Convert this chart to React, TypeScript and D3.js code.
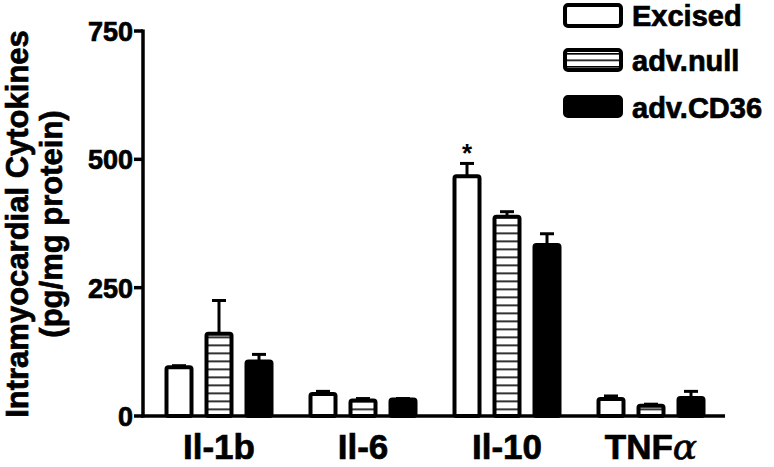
import React from "react";
import * as d3 from "d3";

const categories = ["Il-1b", "Il-6", "Il-10", "TNF"];
const seriesNames = ["Excised", "adv.null", "adv.CD36"];
const excised = [95, 43, 467, 33];
const excisedErr = [3, 5, 25, 6];
const advNull = [160, 30, 388, 20];
const advNullErr = [65, 4, 10, 3];
const advCD36 = [106, 32, 333, 35];
const advCD36Err = [14, 2, 22, 13];
const yTicks = [0, 250, 500, 750];

const W = 774, H = 467;

export default function App() {
  const y = d3.scaleLinear().domain([0, 750]).range([416, 31]);
  const x0 = d3.scaleBand<string>().domain(categories).range([147, 723]).padding(0);
  const x1 = d3.scaleBand<string>().domain(seriesNames).range([-60, 60]).padding(0);
  const values = [excised, advNull, advCD36];
  const errs = [excisedErr, advNullErr, advCD36Err];
  const font = "Arial, 'Liberation Sans', sans-serif";
  const sw = 4;
  const barW = 25;
  const fills = ["#fff", "url(#stripes)", "#000"];
  const legendY = [5, 50, 97];
  const legendH = [21, 20, 19];
  const heavy = { stroke: "#000", strokeWidth: 0.7 };
  return (
    <svg width={W} height={H} style={{ position: "absolute", left: 0, top: 0, background: "#fff" }} fontFamily={font}>
      <defs>
        <pattern id="stripes" patternUnits="userSpaceOnUse" width="8" height="8" y={0.5}>
          <rect width="8" height="8" fill="#fff" />
          <rect y="0" width="8" height="1.6" fill="#000" />
        </pattern>
        <pattern id="stripesL" patternUnits="userSpaceOnUse" width="8" height="6.5" y={53}>
          <rect width="8" height="6.5" fill="#fff" />
          <rect y="0" width="8" height="1.6" fill="#000" />
        </pattern>
      </defs>
      {categories.map((c, ci) => (
        <g key={c}>
          {seriesNames.map((s, si) => {
            const cx = (x0(c) as number) + x0.bandwidth() / 2 + (x1(s) as number) + x1.bandwidth() / 2;
            const v = values[si][ci];
            const e = errs[si][ci];
            const top = y(v);
            return (
              <g key={s}>
                <line x1={cx} x2={cx} y1={top} y2={y(v + e)} stroke="#000" strokeWidth={3} />
                <line x1={cx - 7} x2={cx + 7} y1={y(v + e)} y2={y(v + e)} stroke="#000" strokeWidth={3} />
                <rect x={cx - barW / 2} y={top} width={barW} height={y(0) - top} fill={fills[si]} stroke="#000" strokeWidth={sw} rx={2} />
              </g>
            );
          })}
        </g>
      ))}
      <text x={(x0("Il-10") as number) + x0.bandwidth() / 2 + (x1("Excised") as number) + x1.bandwidth() / 2} y={y(excised[2] + excisedErr[2]) - 1} textAnchor="middle" fontSize={26} fontWeight="bold">*</text>
      <line x1={143} x2={143} y1={y(750) - 1.5} y2={y(0) + 1.5} stroke="#000" strokeWidth={3.5} />
      <line x1={141} x2={725} y1={y(0)} y2={y(0)} stroke="#000" strokeWidth={3.5} />
      {yTicks.map((t) => (
        <g key={t}>
          <line x1={134} x2={143} y1={y(t)} y2={y(t)} stroke="#000" strokeWidth={3.5} />
          <text x={133} y={y(t) + 10} textAnchor="end" fontSize={27} fontWeight="bold" {...heavy}>{t}</text>
        </g>
      ))}
      {categories.map((c) => (
        <text key={c} x={(x0(c) as number) + x0.bandwidth() / 2} y={459} textAnchor="middle" fontSize={35} fontWeight="bold" {...heavy}>
          {c === "TNF" ? (<>TNF<tspan fontWeight="normal" fontFamily="'DejaVu Serif', serif" fontStyle="italic" fontSize={36}>α</tspan></>) : c}
        </text>
      ))}
      <g transform="translate(28,224) rotate(-90)">
        <text x={0} y={0} textAnchor="middle" fontSize={31} fontWeight="bold" {...heavy}>Intramyocardial Cytokines</text>
        <text x={0} y={34} textAnchor="middle" fontSize={31} fontWeight="bold" {...heavy}>(pg/mg protein)</text>
      </g>
      {seriesNames.map((s, i) => {
        const ly = legendY[i];
        return (
          <g key={s}>
            <rect x={565} y={ly} width={56} height={legendH[i]} fill={i === 1 ? "url(#stripesL)" : fills[i]} stroke="#000" strokeWidth={4} rx={3} />
            <text x={632} y={ly + 21} fontSize={29} fontWeight="bold" {...heavy}>{s}</text>
          </g>
        );
      })}
    </svg>
  );
}
